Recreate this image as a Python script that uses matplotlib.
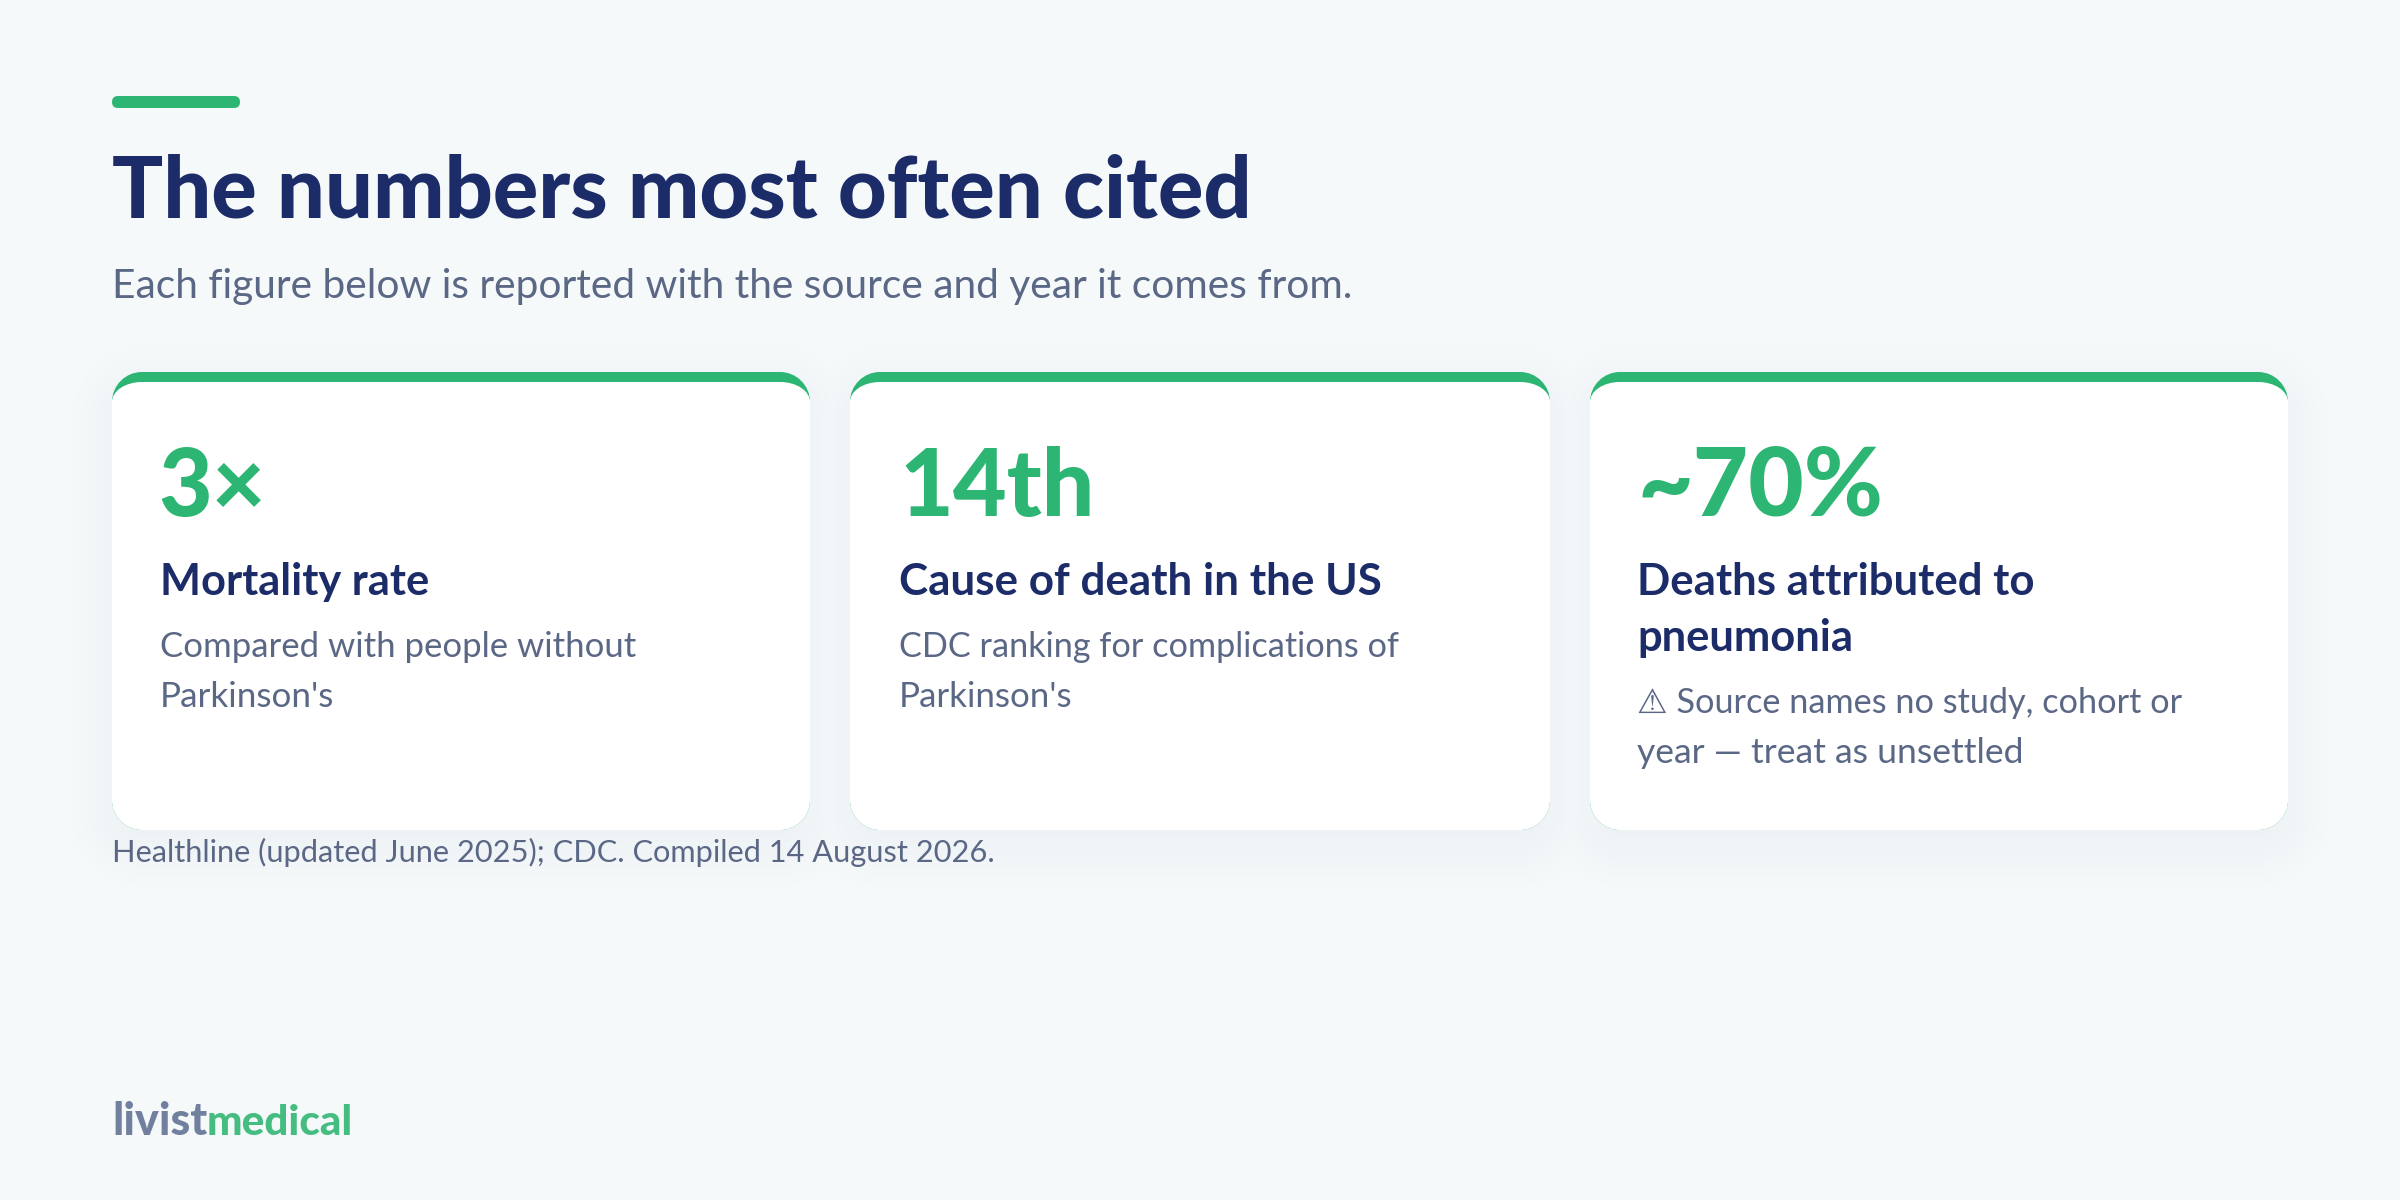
import numpy as np
import matplotlib
matplotlib.use("Agg")
import matplotlib.pyplot as plt
from matplotlib.path import Path
from matplotlib.patches import PathPatch, FancyBboxPatch

title = "The numbers most often cited"
subtitle = "Each figure below is reported with the source and year it comes from."
card_values = ["3×", "14th", "~70%"]
card_labels = [["Mortality rate"], ["Cause of death in the US"], ["Deaths attributed to", "pneumonia"]]
card_notes = [["Compared with people without", "Parkinson's"],
              ["CDC ranking for complications of", "Parkinson's"],
              ["⚠ Source names no study, cohort or", "year — treat as unsettled"]]
footnote = "Healthline (updated June 2025); CDC. Compiled 14 August 2026."
brand = ["livist", "medical"]

BG = "#F5F9FA"; GREEN = "#2DB673"; NAVY = "#1C2C68"; GREY = "#5A6785"
FAM = ["Lato", "DejaVu Sans"]

W, H = 2400, 1200
fig = plt.figure(figsize=(W/100, H/100), dpi=100, facecolor=BG)
ax = fig.add_axes([0, 0, 1, 1])
ax.set_xlim(0, W); ax.set_ylim(H, 0); ax.axis("off")

card_x = [(112, 810), (850, 1550), (1590, 2288)]
TOP, BOT, STRIPE, R = 372, 830, 10, 30

# soft card shadows
yy, xx = np.mgrid[0:H, 0:W] + 0.5
shadow = np.zeros((H, W))
for x0, x1 in card_x:
    cx, cy = (x0+x1)/2, (TOP+BOT)/2 + 16
    qx = np.abs(xx-cx) - ((x1-x0)/2 - R)
    qy = np.abs(yy-cy) - ((BOT-TOP)/2 - R)
    d = np.hypot(np.maximum(qx, 0), np.maximum(qy, 0)) + np.minimum(np.maximum(qx, qy), 0) - R
    u = np.clip(0.5 - d/120, 0, 1)
    shadow = np.maximum(shadow, u*u*(3 - 2*u))
rgba = np.zeros((H, W, 4))
rgba[..., :3] = matplotlib.colors.to_rgb("#1C2C68")
rgba[..., 3] = shadow * 0.05
ax.imshow(rgba, extent=(0, W, H, 0), interpolation="nearest", zorder=1, aspect="auto")
ax.set_xlim(0, W); ax.set_ylim(H, 0)

K = 0.5523
def rounded(x0, y0, x1, y1, tl, br):
    """Rect with elliptical top corners tl=(rx, ry) and circular bottom corners br."""
    rx, ry = tl
    v = [(x0, y0+ry), (x0, y0+ry-K*ry), (x0+rx-K*rx, y0), (x0+rx, y0),
         (x1-rx, y0), (x1-rx+K*rx, y0), (x1, y0+ry-K*ry), (x1, y0+ry),
         (x1, y1-br), (x1, y1-br+K*br), (x1-br+K*br, y1), (x1-br, y1),
         (x0+br, y1), (x0+br-K*br, y1), (x0, y1-br+K*br), (x0, y1-br),
         (x0, y0+ry)]
    c = [Path.MOVETO, Path.CURVE4, Path.CURVE4, Path.CURVE4, Path.LINETO,
         Path.CURVE4, Path.CURVE4, Path.CURVE4, Path.LINETO,
         Path.CURVE4, Path.CURVE4, Path.CURVE4, Path.LINETO,
         Path.CURVE4, Path.CURVE4, Path.CURVE4, Path.CLOSEPOLY]
    return Path(v, c)

for x0, x1 in card_x:
    ax.add_patch(PathPatch(rounded(x0, TOP, x1, BOT, (R, R), R), fc=GREEN, ec="none", zorder=2))
    ax.add_patch(PathPatch(rounded(x0, TOP+STRIPE, x1, BOT, (R, R-STRIPE), R), fc="white", ec="none", zorder=3))

ax.add_patch(FancyBboxPatch((112, 96), 128, 12, boxstyle="round,pad=0,rounding_size=6",
                            fc=GREEN, ec="none", zorder=2))

renderer = fig.canvas.get_renderer()
def put(x, base, s, right, color, weight, size=30):
    """Left/baseline text whose size is fitted so its ink ends near `right`."""
    t = ax.text(x, base, s, color=color, fontweight=weight, family=FAM, fontsize=size,
                ha="left", va="baseline", zorder=5)
    w = t.get_window_extent(renderer).width
    t.set_fontsize(size * (right - x) / w)
    return t

put(112, 217, title, 1249, NAVY, "black")
put(112, 298, subtitle, 1351, GREY, "normal")

text_x = [160, 899, 1637]
val_right = [265, 1094, 1883]
val_left = [158, 899, 1638]
label_right = [[429], [1382], [2034, 1853]]
note_right = [[635, 334], [1399, 1072], [2182, 2022]]
for i in range(3):
    put(val_left[i], 516, card_values[i], val_right[i], GREEN, "black")
    base = 595
    for s, r in zip(card_labels[i], label_right[i]):
        put(text_x[i], base, s, r, NAVY, "bold")
        base += 56
    base = base - 56 + 62
    for s, r in zip(card_notes[i], note_right[i]):
        put(text_x[i], base, s, r, GREY, "normal")
        base += 50

put(112, 862, footnote, 992, GREY, "normal")
put(112, 1135, brand[0], 207, "#71809E", "black")
put(207, 1135, brand[1], 353, "#45BC80", "black")

fig.savefig("out.png", dpi=100, facecolor=BG)
